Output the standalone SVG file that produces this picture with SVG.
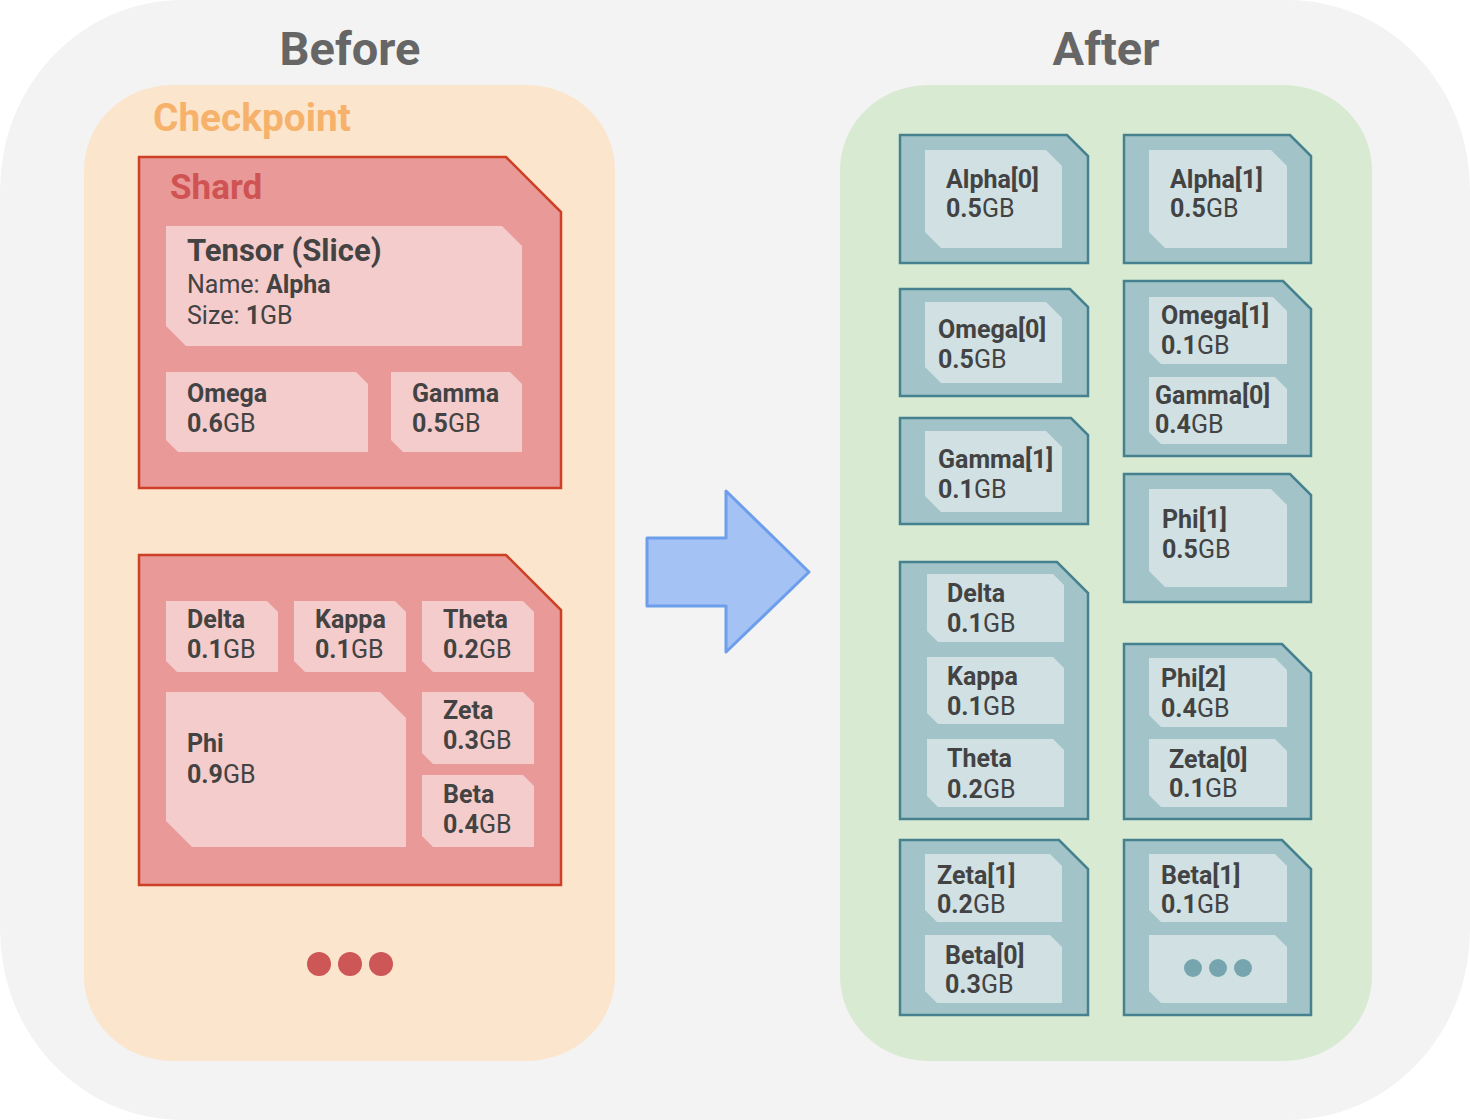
<svg xmlns="http://www.w3.org/2000/svg" width="1470" height="1120" viewBox="0 0 1470 1120">
<style>
text{font-family:Roboto,"Liberation Sans",sans-serif;fill:#434343;}
.h{font-size:47px;font-weight:700;fill:#666666;text-anchor:middle;}
.ck{font-size:38.8px;font-weight:700;fill:#f6b26b;}
.sh{font-size:35px;font-weight:700;fill:#d05353;}
.t{font-size:25px;}
.tr{font-size:25px;}
.b{font-weight:700;}
.shard{fill:#ea9999;stroke:#cc4125;stroke-width:2.5;}
.rt{fill:#f4cccc;}
.gb{fill:#a2c4c9;stroke:#45818e;stroke-width:2.5;}
.gt{fill:#d0e0e3;}
</style>
<rect x="0" y="0" width="1470" height="1120" rx="182" ry="190" fill="#f3f3f3"/>
<text class="h" x="350" y="65">Before</text>
<text class="h" x="1106" y="65">After</text>
<g id="checkpoint">
<rect x="84" y="85" width="531" height="976" rx="88" ry="85" fill="#fce5cd"/>
<text class="ck" x="153" y="131">Checkpoint</text>
</g>
<g id="shard1">
<path class="shard" d="M139,157H506L561,212V488H139Z"/>
<text class="sh" x="170" y="199">Shard</text>
<path class="rt" d="M166,226H502L522,246V346H186L166,326Z"/>
<text class="b" x="187" y="261" font-size="31px">Tensor (Slice)</text>
<text class="t" x="187" y="293">Name: <tspan class="b">Alpha</tspan></text>
<text class="t" x="187" y="324">Size: <tspan class="b">1</tspan>GB</text>
<path class="rt" d="M166,372H356L368,384V452H178L166,440Z"/>
<text class="t b" x="187" y="402">Omega</text>
<text class="t" x="187" y="432"><tspan class="b">0.6</tspan>GB</text>
<path class="rt" d="M391,372H510L522,384V452H403L391,440Z"/>
<text class="t b" x="412" y="402">Gamma</text>
<text class="t" x="412" y="432"><tspan class="b">0.5</tspan>GB</text>
</g>
<g id="shard2">
<path class="shard" d="M139,555H506L561,610V885H139Z"/>
<path class="rt" d="M166,601H267L278,612V672H177L166,661Z"/>
<text class="t b" x="187" y="628">Delta</text>
<text class="t" x="187" y="658"><tspan class="b">0.1</tspan>GB</text>
<path class="rt" d="M294,601H395L406,612V672H305L294,661Z"/>
<text class="t b" x="315" y="628">Kappa</text>
<text class="t" x="315" y="658"><tspan class="b">0.1</tspan>GB</text>
<path class="rt" d="M422,601H523L534,612V672H433L422,661Z"/>
<text class="t b" x="443" y="628">Theta</text>
<text class="t" x="443" y="658"><tspan class="b">0.2</tspan>GB</text>
<path class="rt" d="M166,692H380L406,718V847H192L166,821Z"/>
<text class="t b" x="187" y="752">Phi</text>
<text class="t" x="187" y="783"><tspan class="b">0.9</tspan>GB</text>
<path class="rt" d="M422,692H523L534,703V764H433L422,753Z"/>
<text class="t b" x="443" y="719">Zeta</text>
<text class="t" x="443" y="749"><tspan class="b">0.3</tspan>GB</text>
<path class="rt" d="M422,775H523L534,786V847H433L422,836Z"/>
<text class="t b" x="443" y="803">Beta</text>
<text class="t" x="443" y="833"><tspan class="b">0.4</tspan>GB</text>
</g>
<g id="more-left" fill="#cd5656">
<circle cx="319" cy="964" r="12"/>
<circle cx="350" cy="964" r="12"/>
<circle cx="381" cy="964" r="12"/>
</g>
<g id="connectors">
<path d="M647,538H726V491L809,572L726,652V606H647Z" fill="#a4c2f4" stroke="#6d9eeb" stroke-width="3" stroke-linejoin="round"/>
</g>
<g id="after">
<rect x="840" y="85" width="532" height="976" rx="88" ry="85" fill="#d9ead3"/>
</g>
<g id="alpha0">
<path class="gb" d="M900,135H1067L1088,156V263H900Z"/>
<path class="gt" d="M925,150H1046L1062,166V248H941L925,232Z"/>
<text class="tr b" x="946" y="188">Alpha[0]</text>
<text class="tr" x="946" y="217"><tspan class="b">0.5</tspan>GB</text>
</g>
<g id="alpha1">
<path class="gb" d="M1124,135H1290L1311,156V263H1124Z"/>
<path class="gt" d="M1149,150H1271L1287,166V248H1165L1149,232Z"/>
<text class="tr b" x="1170" y="188">Alpha[1]</text>
<text class="tr" x="1170" y="217"><tspan class="b">0.5</tspan>GB</text>
</g>
<g id="omega0">
<path class="gb" d="M900,289H1070L1088,307V396H900Z"/>
<path class="gt" d="M925,302H1046L1062,318V383H941L925,367Z"/>
<text class="tr b" x="938" y="338">Omega[0]</text>
<text class="tr" x="938" y="368"><tspan class="b">0.5</tspan>GB</text>
</g>
<g id="omega1-gamma0">
<path class="gb" d="M1124,281H1283L1311,309V456H1124Z"/>
<path class="gt" d="M1149,297H1273L1287,311V364H1161L1149,352Z"/>
<text class="tr b" x="1161" y="324">Omega[1]</text>
<text class="tr" x="1161" y="354"><tspan class="b">0.1</tspan>GB</text>
<path class="gt" d="M1149,377H1275L1287,389V444H1161L1149,432Z"/>
<text class="tr b" x="1155" y="404">Gamma[0]</text>
<text class="tr" x="1155" y="433"><tspan class="b">0.4</tspan>GB</text>
</g>
<g id="gamma1">
<path class="gb" d="M900,418H1071L1088,435V524H900Z"/>
<path class="gt" d="M925,431H1046L1062,447V512H941L925,496Z"/>
<text class="tr b" x="938" y="468">Gamma[1]</text>
<text class="tr" x="938" y="498"><tspan class="b">0.1</tspan>GB</text>
</g>
<g id="phi1">
<path class="gb" d="M1124,474H1290L1311,495V602H1124Z"/>
<path class="gt" d="M1149,489H1271L1287,505V587H1165L1149,571Z"/>
<text class="tr b" x="1162" y="528">Phi[1]</text>
<text class="tr" x="1162" y="558"><tspan class="b">0.5</tspan>GB</text>
</g>
<g id="delta-kappa-theta">
<path class="gb" d="M900,562H1057L1088,593V819H900Z"/>
<path class="gt" d="M927,574H1053L1064,585V642H938L927,631Z"/>
<text class="tr b" x="947" y="602">Delta</text>
<text class="tr" x="947" y="632"><tspan class="b">0.1</tspan>GB</text>
<path class="gt" d="M927,657H1053L1064,668V724H938L927,713Z"/>
<text class="tr b" x="947" y="685">Kappa</text>
<text class="tr" x="947" y="715"><tspan class="b">0.1</tspan>GB</text>
<path class="gt" d="M927,739H1053L1064,750V807H938L927,796Z"/>
<text class="tr b" x="947" y="767">Theta</text>
<text class="tr" x="947" y="798"><tspan class="b">0.2</tspan>GB</text>
</g>
<g id="phi2-zeta0">
<path class="gb" d="M1124,644H1282L1311,673V819H1124Z"/>
<path class="gt" d="M1149,658H1275L1287,670V727H1161L1149,715Z"/>
<text class="tr b" x="1161" y="687">Phi[2]</text>
<text class="tr" x="1161" y="717"><tspan class="b">0.4</tspan>GB</text>
<path class="gt" d="M1149,739H1275L1287,751V807H1161L1149,795Z"/>
<text class="tr b" x="1169" y="768">Zeta[0]</text>
<text class="tr" x="1169" y="797"><tspan class="b">0.1</tspan>GB</text>
</g>
<g id="zeta1-beta0">
<path class="gb" d="M900,840H1059L1088,869V1015H900Z"/>
<path class="gt" d="M925,854H1050L1062,866V922H937L925,910Z"/>
<text class="tr b" x="937" y="884">Zeta[1]</text>
<text class="tr" x="937" y="913"><tspan class="b">0.2</tspan>GB</text>
<path class="gt" d="M925,935H1050L1062,947V1003H937L925,991Z"/>
<text class="tr b" x="945" y="964">Beta[0]</text>
<text class="tr" x="945" y="993"><tspan class="b">0.3</tspan>GB</text>
</g>
<g id="beta1-more">
<path class="gb" d="M1124,840H1282L1311,869V1015H1124Z"/>
<path class="gt" d="M1149,854H1275L1287,866V922H1161L1149,910Z"/>
<text class="tr b" x="1161" y="884">Beta[1]</text>
<text class="tr" x="1161" y="913"><tspan class="b">0.1</tspan>GB</text>
<path class="gt" d="M1149,935H1275L1287,947V1003H1161L1149,991Z"/>
<g fill="#76a5af">
<circle cx="1193" cy="968" r="9"/>
<circle cx="1218" cy="968" r="9"/>
<circle cx="1243" cy="968" r="9"/>
</g>
</g>
</svg>
